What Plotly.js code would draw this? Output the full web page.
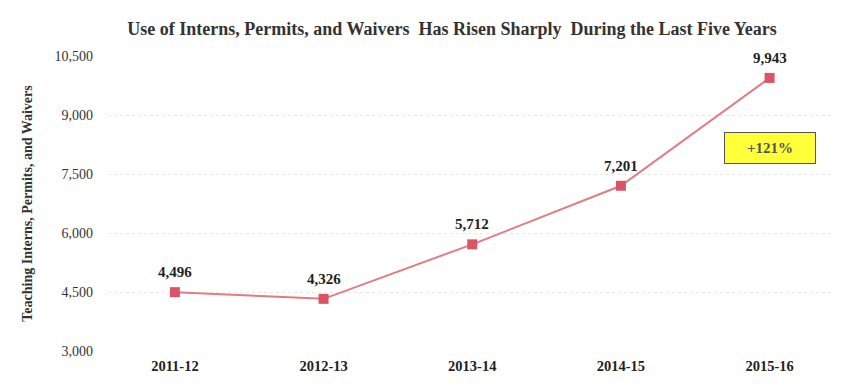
<!DOCTYPE html>
<html><head><meta charset="utf-8">
<script src="https://cdn.plot.ly/plotly-3.0.1.min.js"></script>
<style>html,body{margin:0;padding:0;background:#fff;}#chart{width:845px;height:386px;}</style>
</head><body><div id="chart"></div>
<script>
const years = ["2011-12", "2012-13", "2013-14", "2014-15", "2015-16"];
const counts = [4496, 4326, 5712, 7201, 9943];
const yTicks = [3000, 4500, 6000, 7500, 9000, 10500];
const changeLabel = "+121%";

const serif = "'Liberation Serif', 'Times New Roman', serif";
const trace = {
  x: years, y: counts, type: "scatter", mode: "lines+markers",
  line: {color: "#e37b80", width: 2},
  marker: {symbol: "square", size: 10, color: "#d95565"},
  cliponaxis: false, hoverinfo: "skip"
};
const labelAnns = years.map((yr, i) => ({
  x: yr, y: counts[i], xref: "x", yref: "y", text: "<b>" + counts[i].toLocaleString("en-US") + "</b>",
  showarrow: false, yanchor: "bottom", yshift: 10,
  font: {family: serif, size: 15, color: "#222"}
}));
const layout = {
  width: 845, height: 386,
  margin: {l: 108, r: 10, t: 56, b: 35},
  paper_bgcolor: "#fff", plot_bgcolor: "#fff",
  showlegend: false,
  title: {text: "<b>Use of Interns, Permits, and Waivers  Has Risen Sharply  During the Last Five Years</b>",
          font: {family: serif, size: 18, color: "#333"}, x: 0.535, xanchor: "center", y: 0.925, yanchor: "middle"},
  xaxis: {type: "category", range: [-0.45, 4.44], showgrid: false, zeroline: false, showline: false,
          ticks: "", ticklabelstandoff: 4, tickfont: {family: serif, size: 14.5, color: "#222", weight: "bold"}},
  yaxis: {range: [3000, 10500], tickvals: yTicks, ticktext: yTicks.map(v => v.toLocaleString("en-US")),
          showgrid: true, gridcolor: "#e8e8e8", griddash: "dot", gridwidth: 1, zeroline: false, showline: false,
          ticks: "", ticklabelstandoff: 14,
          tickfont: {family: serif, size: 14, color: "#333"},
          title: {text: "<b>Teaching Interns, Permits, and Waivers</b>", font: {family: serif, size: 14, color: "#333"}, standoff: 18}},
  annotations: labelAnns.concat([{
    x: 4, y: 8160, xref: "x", yref: "y", text: "<b>" + changeLabel + "</b>", showarrow: false,
    font: {family: serif, size: 15, color: "#555"}, bgcolor: "#ffff3a", bordercolor: "#555", borderwidth: 1,
    width: 88, height: 28
  }])
};
Plotly.newPlot("chart", [trace], layout, {staticPlot: true, displayModeBar: false});
</script></body></html>
